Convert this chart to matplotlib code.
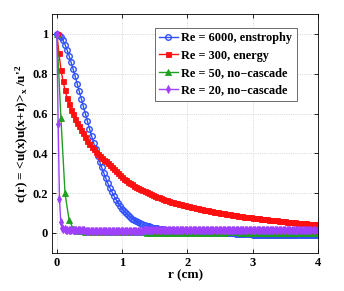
import numpy as np
import matplotlib
matplotlib.use("Agg")
import matplotlib.pyplot as plt

plt.rcParams['font.family'] = 'Liberation Serif'
plt.rcParams['font.weight'] = 'bold'
plt.rcParams['axes.labelweight'] = 'bold'
plt.rcParams['mathtext.fontset'] = 'custom'
plt.rcParams['mathtext.rm'] = 'Liberation Serif:bold'
plt.rcParams['mathtext.it'] = 'Liberation Serif:bold'
plt.rcParams['mathtext.bf'] = 'Liberation Serif:bold'

# Re = 6000 (enstrophy cascade), sampled every 1/32 cm
r_6000 = np.arange(129) / 32
c_6000 = [1.000, 0.996, 0.985, 0.968, 0.946, 0.920, 0.890, 0.857,
          0.822, 0.786, 0.749, 0.712, 0.674, 0.636, 0.598, 0.561,
          0.524, 0.488, 0.454, 0.421, 0.389, 0.358, 0.329, 0.301,
          0.275, 0.250, 0.227, 0.206, 0.186, 0.168, 0.151, 0.136,
          0.122, 0.110, 0.099, 0.089, 0.080, 0.072, 0.065, 0.059,
          0.053, 0.048, 0.043, 0.039, 0.036, 0.033, 0.030, 0.027,
          0.025, 0.023, 0.021, 0.019, 0.018, 0.017, 0.016, 0.015,
          0.014, 0.013, 0.012, 0.012, 0.011, 0.011, 0.010, 0.010,
          0.009, 0.009, 0.008, 0.008, 0.007, 0.007, 0.006, 0.006,
          0.005, 0.005, 0.004, 0.004, 0.003, 0.003, 0.003, 0.002,
          0.002, 0.001, 0.001, 0.000, 0.000, -0.001, -0.002, -0.002,
          -0.003, -0.004, -0.004, -0.005, -0.005, -0.006, -0.007, -0.007,
          -0.008, -0.008, -0.009, -0.009, -0.009, -0.010, -0.010, -0.010,
          -0.011, -0.011, -0.011, -0.011, -0.012, -0.012, -0.012, -0.012,
          -0.012, -0.012, -0.012, -0.012, -0.012, -0.011, -0.011, -0.011,
          -0.011, -0.011, -0.010, -0.010, -0.010, -0.010, -0.010, -0.010,
          -0.010]

# Re = 300 (energy cascade)
r_300 = np.arange(129) / 32
c_300 = [1.000, 0.905, 0.820, 0.765, 0.718, 0.680, 0.648, 0.620,
         0.596, 0.574, 0.554, 0.537, 0.518, 0.500, 0.481, 0.463,
         0.448, 0.434, 0.420, 0.408, 0.397, 0.387, 0.378, 0.369,
         0.359, 0.349, 0.339, 0.330, 0.320, 0.310, 0.300, 0.290,
         0.281, 0.273, 0.265, 0.258, 0.251, 0.244, 0.238, 0.232,
         0.226, 0.220, 0.215, 0.210, 0.205, 0.200, 0.196, 0.191,
         0.187, 0.183, 0.179, 0.175, 0.171, 0.168, 0.164, 0.161,
         0.158, 0.155, 0.152, 0.149, 0.146, 0.143, 0.140, 0.138,
         0.135, 0.133, 0.131, 0.128, 0.126, 0.124, 0.122, 0.119,
         0.117, 0.115, 0.113, 0.111, 0.109, 0.107, 0.105, 0.103,
         0.101, 0.099, 0.098, 0.096, 0.094, 0.093, 0.091, 0.090,
         0.088, 0.087, 0.085, 0.084, 0.082, 0.081, 0.079, 0.078,
         0.076, 0.075, 0.074, 0.073, 0.071, 0.070, 0.069, 0.068,
         0.067, 0.066, 0.065, 0.064, 0.063, 0.062, 0.061, 0.060,
         0.058, 0.057, 0.056, 0.055, 0.054, 0.053, 0.052, 0.051,
         0.050, 0.049, 0.048, 0.047, 0.047, 0.046, 0.045, 0.044,
         0.043]

# Re = 50 (no cascade), every 1/16 cm
r_50 = np.arange(65) / 16
c_50 = [1.000, 0.575, 0.200, 0.065, 0.022, 0.011, 0.008, 0.006,
        0.005, 0.005, 0.004, 0.004, 0.004, 0.004, 0.004, 0.004,
        0.004, 0.004, 0.003, 0.003, 0.003, 0.003, 0.002, 0.002,
        0.002, 0.002, 0.001, 0.001, 0.001, 0.000, 0.000, 0.000,
        -0.001, -0.001, 0.000, 0.000, 0.001, 0.001, 0.001, 0.002,
        0.002, 0.002, 0.003, 0.003, 0.003, 0.002, 0.002, 0.002,
        0.001, 0.001, 0.001, 0.002, 0.002, 0.002, 0.002, 0.001,
        0.001, 0.001, 0.000, 0.000, 0.000, 0.000, 0.000, 0.000,
        0.000]

# Re = 20 (no cascade), every 0.02 cm
r_20 = np.arange(201) / 50
c_20 = [1.000, 0.545, 0.170, 0.056, 0.027, 0.020, 0.018, 0.017, 0.016, 0.016,
        0.015, 0.015, 0.015, 0.014, 0.014, 0.014, 0.014, 0.013, 0.013, 0.013,
        0.013, 0.013, 0.012, 0.012, 0.012, 0.012, 0.012, 0.012, 0.011, 0.011,
        0.011, 0.011, 0.011, 0.011, 0.011, 0.011, 0.011, 0.011, 0.011, 0.011,
        0.011, 0.011, 0.011, 0.011, 0.011, 0.011, 0.011, 0.011, 0.011, 0.011,
        0.011, 0.011, 0.011, 0.011, 0.011, 0.012, 0.012, 0.012, 0.012, 0.012,
        0.012, 0.012, 0.012, 0.012, 0.012, 0.012, 0.012, 0.013, 0.013, 0.013,
        0.013, 0.013, 0.013, 0.013, 0.013, 0.013, 0.014, 0.014, 0.014, 0.014,
        0.014, 0.014, 0.014, 0.014, 0.014, 0.014, 0.014, 0.014, 0.014, 0.014,
        0.014, 0.014, 0.014, 0.014, 0.014, 0.014, 0.014, 0.014, 0.014, 0.014,
        0.015, 0.015, 0.015, 0.015, 0.015, 0.015, 0.015, 0.015, 0.015, 0.015,
        0.015, 0.015, 0.015, 0.015, 0.015, 0.015, 0.015, 0.015, 0.015, 0.015,
        0.015, 0.015, 0.015, 0.015, 0.015, 0.015, 0.016, 0.016, 0.016, 0.016,
        0.016, 0.016, 0.016, 0.016, 0.016, 0.016, 0.016, 0.016, 0.016, 0.016,
        0.016, 0.016, 0.016, 0.016, 0.016, 0.016, 0.016, 0.016, 0.016, 0.016,
        0.016, 0.016, 0.016, 0.016, 0.016, 0.016, 0.016, 0.016, 0.016, 0.016,
        0.016, 0.016, 0.016, 0.016, 0.016, 0.017, 0.017, 0.017, 0.017, 0.017,
        0.017, 0.017, 0.017, 0.017, 0.017, 0.017, 0.017, 0.017, 0.017, 0.017,
        0.017, 0.017, 0.017, 0.017, 0.017, 0.017, 0.017, 0.017, 0.017, 0.017,
        0.017, 0.017, 0.017, 0.017, 0.017, 0.017, 0.017, 0.017, 0.017, 0.017,
        0.017]

labels = ["Re = 6000, enstrophy", "Re = 300, energy",
          "Re = 50, no\u2212cascade", "Re = 20, no\u2212cascade"]

fig = plt.figure(figsize=(3.44, 2.91), dpi=100)
ax = fig.add_axes([0.152, 0.131, 0.772, 0.821])

ax.plot(r_6000, c_6000, '-o', color='#3050ff', lw=1.0, ms=4.0,
        mfc='none', mew=1.0, label=labels[0])
ax.plot(r_300, c_300, '-s', color='#ff1010', lw=1.0, ms=3.6,
        mew=0.6, label=labels[1])
ax.plot(r_50, c_50, '-^', color='#20a020', lw=1.0, ms=4.0,
        mew=0.6, label=labels[2])
ax.plot(r_20, c_20, '-d', color='#a040ff', lw=1.0, ms=4.2,
        mew=0.6, label=labels[3])

ax.set_xlim(-0.07, 4)
ax.set_ylim(-0.1, 1.1)
ax.set_xticks([0, 1, 2, 3, 4])
ax.set_yticks([0, 0.2, 0.4, 0.6, 0.8, 1])
ax.set_yticklabels(['0', '0.2', '0.4', '0.6', '0.8', '1'])
ax.tick_params(direction='in', length=3, width=0.6, labelsize=9,
               top=True, right=True, pad=3)
for lab in ax.get_xticklabels() + ax.get_yticklabels():
    lab.set_fontweight('bold')
ax.grid(True, linestyle=':', color='#c8c8c8', lw=0.6)
for s in ax.spines.values():
    s.set_linewidth(0.6)

ax.set_xlabel("r (cm)", fontsize=9.5, fontweight='bold', labelpad=0)
ax.set_ylabel(r"c(r) = <u(x)u(x+r)>$_{\rm x}$ /u'$^{\rm 2}$", fontsize=9.5,
              fontweight='bold', labelpad=1)

leg = ax.legend(loc='upper right', handlelength=1.5,
                handletextpad=0.3, borderpad=0.35, labelspacing=0.45,
                fancybox=False, edgecolor='#555555', framealpha=1,
                bbox_to_anchor=(0.943, 0.968),
                prop={'family': 'Liberation Serif', 'weight': 'bold', 'size': 8.8})
leg.get_frame().set_linewidth(0.6)

fig.savefig("out.png", dpi=100)
